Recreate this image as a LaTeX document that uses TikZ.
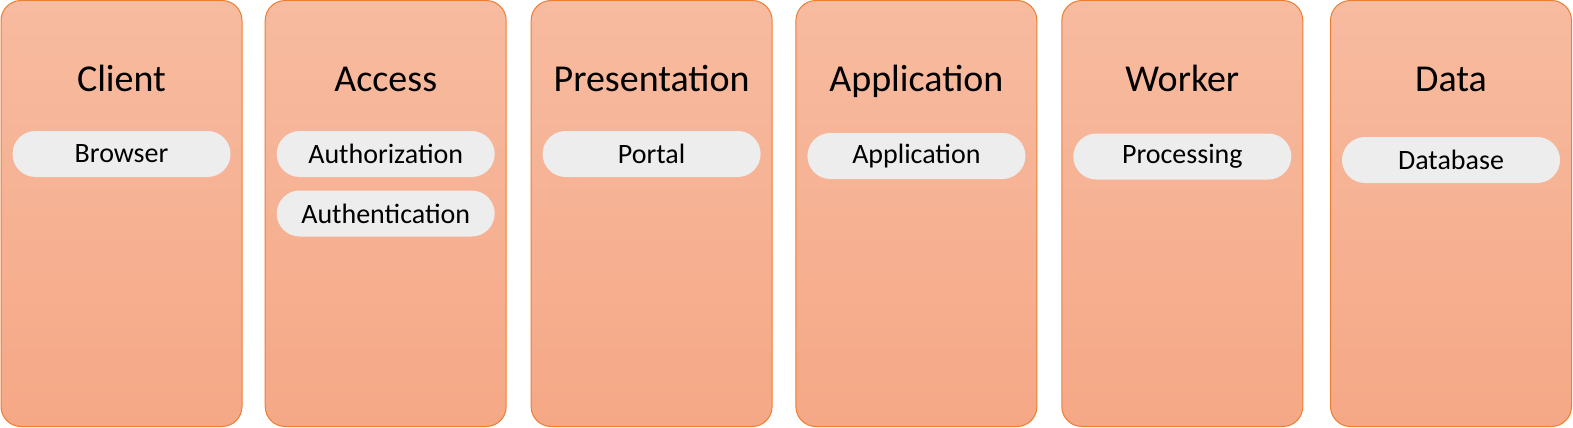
\documentclass[tikz,border=0pt]{standalone}
\usepackage{fontspec}
\setmainfont{Carlito}
\usepackage{xcolor}
\usetikzlibrary{shapes.misc}
\definecolor{layertop}{HTML}{F7BBA0}
\definecolor{layerbot}{HTML}{F5A886}
\definecolor{layerline}{HTML}{ED7D31}
\definecolor{pillfill}{HTML}{EDEDED}
\tikzset{
  layer/.style={rectangle,rounded corners=20pt,draw=layerline,line width=1pt,
    top color=layertop,bottom color=layerbot,minimum width=241pt,minimum height=426pt,inner sep=0pt},
  title/.style={font=\fontsize{38}{40}\selectfont,text=black,anchor=base},
  service/.style={rounded rectangle,fill=pillfill,minimum width=218pt,minimum height=46pt,
    inner sep=0pt,font=\fontsize{28}{30}\selectfont,text=black}
}
\begin{document}
\begin{tikzpicture}[x=1pt,y=-1pt]
\useasboundingbox (0,0) rectangle (1573,428);
\node[layer] (client) at (121.5,213.5) {};
\node[layer] (access) at (385.7,213.5) {};
\node[layer] (presentation) at (651.6,213.5) {};
\node[layer] (application) at (916.4,213.5) {};
\node[layer] (worker) at (1182.3,213.5) {};
\node[layer] (data) at (1451,213.5) {};
\node[title] (clientTitle) at (121.5,92) {Client};
\node[title] (accessTitle) at (385.7,92) {Access};
\node[title] (presentationTitle) at (651.6,92) {Presentation};
\node[title] (applicationTitle) at (916.4,92) {Application};
\node[title] (workerTitle) at (1182.3,92) {Worker};
\node[title] (dataTitle) at (1451,92) {Data};
\node[service] (browser) at (121.5,154) {Browser};
\node[service] (authorization) at (385.7,154) {Authorization};
\node[service] (authentication) at (385.7,213.5) {Authentication};
\node[service] (portal) at (651.6,154) {Portal};
\node[service] (app) at (916.4,156) {Application};
\node[service] (processing) at (1182.3,156.5) {Processing};
\node[service] (database) at (1451,160) {Database};
\end{tikzpicture}
\end{document}
